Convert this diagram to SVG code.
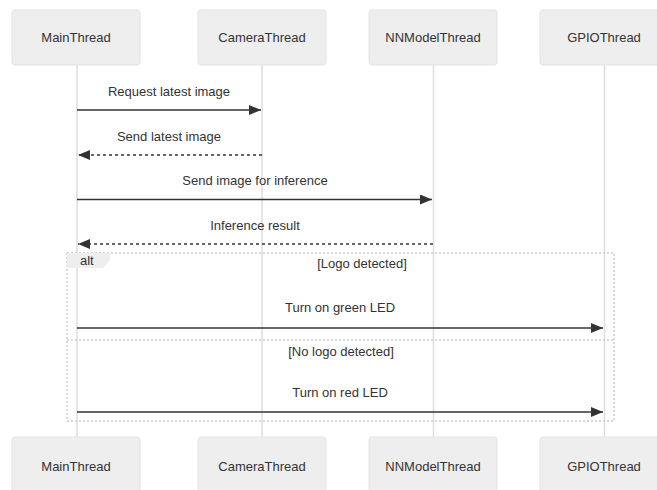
<svg xmlns="http://www.w3.org/2000/svg" width="657" height="490" viewBox="0 0 657 490">
  <style>
    .actor { fill: #eeeeee; stroke: #e3e3e3; stroke-width: 1; }
    .actor-text { font-family: "Liberation Sans", Arial, sans-serif; font-size: 13px; fill: #333333; text-anchor: middle; }
    .lifeline { stroke: #dddddd; stroke-width: 1.5; fill: none; }
    .msg { stroke: #333333; stroke-width: 1.5; fill: none; }
    .msg-dotted { stroke: #333333; stroke-width: 1.5; fill: none; stroke-dasharray: 3 3; }
    .msg-text { font-family: "Liberation Sans", Arial, sans-serif; font-size: 13px; fill: #333333; text-anchor: middle; }
    .loop-line { stroke: #cccccc; stroke-width: 1.5; fill: none; stroke-dasharray: 2 2; }
    .label-box { fill: #eeeeee; stroke: none; }
    .label-text { font-family: "Liberation Sans", Arial, sans-serif; font-size: 13px; fill: #333333; }
  </style>
  <defs>
    <marker id="arrowhead" viewBox="0 0 12 10" refX="12" refY="5" markerWidth="12" markerHeight="10" markerUnits="userSpaceOnUse" orient="auto">
      <path d="M0,0 L12,5 L0,10 z" fill="#333333"/>
    </marker>
  </defs>

  <rect width="657" height="490" fill="#ffffff"/>

  <!-- lifelines -->
  <g id="lifelines">
    <line class="lifeline" x1="77" y1="65" x2="77" y2="437"/>
    <line class="lifeline" x1="262" y1="65" x2="262" y2="437"/>
    <line class="lifeline" x1="433.5" y1="65" x2="433.5" y2="437"/>
    <line class="lifeline" x1="604.5" y1="65" x2="604.5" y2="437"/>
  </g>

  <!-- alt frame -->
  <g id="alt-frame">
    <rect class="loop-line" x="67" y="253" width="547" height="168"/>
    <line class="loop-line" x1="67" y1="340" x2="614" y2="340"/>
    <polygon class="label-box" points="67,253 110,253 110,260 103,268 67,268"/>
    <text class="label-text" x="80" y="265">alt</text>
    <text class="msg-text" x="362" y="268">[Logo detected]</text>
    <text class="msg-text" x="341" y="356">[No logo detected]</text>
  </g>

  <!-- actors (top) -->
  <g id="MainThread">
    <rect class="actor" x="12" y="10" width="128" height="55" rx="3"/>
    <text class="actor-text" x="76" y="42">MainThread</text>
  </g>
  <g id="CameraThread">
    <rect class="actor" x="198" y="10" width="128" height="55" rx="3"/>
    <text class="actor-text" x="262" y="42">CameraThread</text>
  </g>
  <g id="NNModelThread">
    <rect class="actor" x="369" y="10" width="128" height="55" rx="3"/>
    <text class="actor-text" x="433" y="42">NNModelThread</text>
  </g>
  <g id="GPIOThread">
    <rect class="actor" x="540" y="10" width="128" height="55" rx="3"/>
    <text class="actor-text" x="604" y="42">GPIOThread</text>
  </g>

  <!-- actors (bottom) -->
  <g id="MainThread-bottom">
    <rect class="actor" x="12" y="437" width="128" height="55" rx="3"/>
    <text class="actor-text" x="76" y="471">MainThread</text>
  </g>
  <g id="CameraThread-bottom">
    <rect class="actor" x="198" y="437" width="128" height="55" rx="3"/>
    <text class="actor-text" x="262" y="471">CameraThread</text>
  </g>
  <g id="NNModelThread-bottom">
    <rect class="actor" x="369" y="437" width="128" height="55" rx="3"/>
    <text class="actor-text" x="433" y="471">NNModelThread</text>
  </g>
  <g id="GPIOThread-bottom">
    <rect class="actor" x="540" y="437" width="128" height="55" rx="3"/>
    <text class="actor-text" x="604" y="471">GPIOThread</text>
  </g>

  <!-- messages -->
  <g id="connectors">
    <text class="msg-text" x="169" y="96">Request latest image</text>
    <line class="msg" x1="77" y1="110" x2="261" y2="110" marker-end="url(#arrowhead)"/>

    <text class="msg-text" x="169" y="141">Send latest image</text>
    <line class="msg-dotted" x1="262" y1="155" x2="78" y2="155" marker-end="url(#arrowhead)"/>

    <text class="msg-text" x="255" y="185">Send image for inference</text>
    <line class="msg" x1="77" y1="199.5" x2="432" y2="199.5" marker-end="url(#arrowhead)"/>

    <text class="msg-text" x="255" y="230">Inference result</text>
    <line class="msg-dotted" x1="433" y1="244" x2="78" y2="244" marker-end="url(#arrowhead)"/>

    <text class="msg-text" x="340" y="312">Turn on green LED</text>
    <line class="msg" x1="77" y1="328" x2="603" y2="328" marker-end="url(#arrowhead)"/>

    <text class="msg-text" x="340" y="397">Turn on red LED</text>
    <line class="msg" x1="77" y1="412" x2="603" y2="412" marker-end="url(#arrowhead)"/>
  </g>
</svg>
